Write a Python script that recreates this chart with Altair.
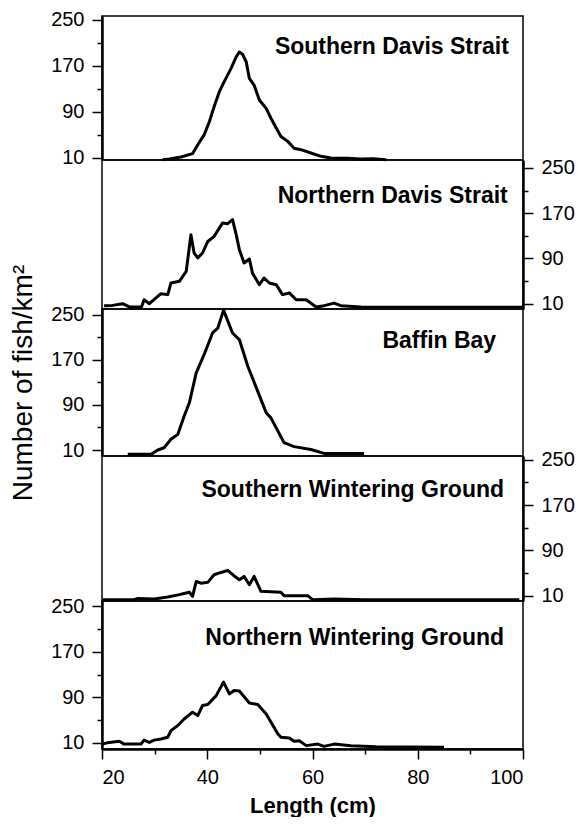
import altair as alt
import pandas as pd

names = ["Southern Davis Strait", "Northern Davis Strait", "Baffin Bay",
         "Southern Wintering Ground", "Northern Wintering Ground"]

sds_len = [31.5, 32.8, 35.0, 37.2, 38.2, 39.4, 40.4, 41.3, 42.3, 43.2, 44.5, 45.5, 46.1, 46.7,
           47.4, 48.0, 48.9, 49.9, 51.2, 52.1, 53.1, 54.0, 55.3, 56.5, 57.8, 59.7, 61.6, 63.5,
           66.7, 69.2, 71.5, 74.0]
sds_val = [7, 8.3, 11.7, 17.5, 33, 50, 73, 99, 125, 142, 165, 185.5, 194, 190,
           177, 148, 136.6, 110.7, 96, 79, 62, 47.4, 38.8, 27, 24.4, 18.6, 12.9, 10,
           9.4, 8.3, 8.8, 7]

nds_len = [20.4, 22.0, 23.9, 25.3, 27.5, 28.0, 29.0, 31.2, 32.5, 33.1, 34.7, 36.0, 36.9, 37.5,
           38.2, 39.1, 40.1, 41.3, 42.9, 43.9, 44.8, 45.5, 46.1, 47.0, 48.0, 48.6, 49.9, 50.8,
           51.8, 53.1, 54.3, 55.6, 56.9, 58.8, 60.7, 62.2, 64.1, 65.4, 69.2, 80.0, 100.0]
nds_val = [6.5, 7, 10, 4, 4, 17, 10, 27.7, 26, 46.6, 49.5, 67, 132, 99.6,
           90.8, 99.6, 120, 129, 152.7, 151.5, 158.6, 132, 105.5, 82, 89, 64, 43.6, 55.4,
           46.6, 43.6, 26, 29, 17, 17, 4, 6.5, 11, 6.5, 4, 3.5, 3.5]

bb_len = [24.9, 29.3, 30.6, 31.8, 33.1, 34.4, 35.6, 36.6, 37.9, 39.4, 41.0, 42.0, 43.1, 44.8,
          46.1, 47.7, 49.6, 51.2, 52.1, 54.6, 56.5, 59.7, 62.2, 69.8]
bb_val = [2.3, 2.3, 10, 14, 29, 37.7, 70, 93.7, 146.8, 179, 217.5, 226, 258, 217.5,
          205.8, 158.6, 114, 76, 67, 23, 16, 11, 4, 4]

swg_len = [20.1, 26.1, 26.8, 29.9, 32.5, 34.7, 36.0, 36.6, 37.2, 37.9, 38.8, 40.1, 41.3, 42.6,
           43.9, 45.1, 46.1, 47.0, 48.0, 48.9, 50.2, 54.0, 54.6, 59.1, 60.0, 64.1, 69.8, 99.3]
swg_val = [3, 3, 5, 4, 7.6, 11.8, 14.7, 16, 8.8, 35, 32, 33.5, 47, 51,
           54.7, 45, 38, 44, 29.4, 44, 17.6, 16, 10, 10, 3, 4, 3, 3]

nwg_len = [20.0, 21.4, 23.3, 24.2, 27.4, 28.0, 29.0, 29.9, 31.2, 32.5, 33.1, 34.4, 35.6, 37.2,
           38.2, 39.1, 40.1, 41.7, 43.1, 44.2, 45.1, 46.1, 48.0, 49.6, 51.2, 53.4, 54.0, 55.6,
           56.5, 57.5, 58.8, 61.0, 62.2, 64.1, 67.3, 72.1, 85.0]
nwg_val = [8, 11, 13, 8, 8, 15, 11, 15, 17, 20, 31.7, 40.5, 52, 64,
           58, 75.7, 77.5, 93, 116.8, 96, 102, 101, 80, 77.5, 61, 26, 20, 18.8,
           13, 14, 5.3, 8, 4, 8, 5.3, 3.5, 2.4]

series = [(sds_len, sds_val), (nds_len, nds_val), (bb_len, bb_val),
          (swg_len, swg_val), (nwg_len, nwg_val)]

# y-axis extent of each panel (the panels were pasted together by hand)
y_domains = [[6.5, 256.4], [0.6, 264], [-0.6, 260], [0.6, 256.5], [-0.6, 259]]
panel_heights = [144, 149, 147, 145, 148]

label_x = [97.3, 97.1, 94.9, 96.4, 96.4]
label_y = [202.6, 200.3, 203.4, 196.5, 193.9]

y_major = [10, 90, 170, 250]
y_minor = [50, 130, 210]
x_major = [20, 40, 60, 80, 100]
x_minor = [30, 50, 70, 90]

FONT = "Liberation Sans"
W = 421


def panel(i):
    lens, vals = series[i]
    df = pd.DataFrame({"len": lens, "val": vals})
    xs = alt.Scale(domain=[20, 100], nice=False, zero=False)
    ys = alt.Scale(domain=y_domains[i], nice=False, zero=False)
    side = "left" if i % 2 == 0 else "right"
    bottom = i == 4
    if bottom:
        xax = alt.Axis(orient="bottom", values=x_major, title="Length (cm)", tickSize=10,
                       labelPadding=8, titlePadding=8, labelFontSize=20,
                       titleFontSize=22, titleFontWeight="bold", grid=False)
        xmin = alt.Axis(orient="bottom", values=x_minor, labels=False, title=None,
                        tickSize=5, domain=False, grid=False)
    else:
        xax = None
        xmin = None
    ytitle = "Number of fish/km²" if i == 2 else None
    yax = alt.Axis(orient=side, values=y_major, title=ytitle, tickSize=10, labelPadding=8,
                   titlePadding=13, labelFontSize=20, titleFontSize=28,
                   titleFontWeight="normal", grid=False)
    ymin = alt.Axis(orient=side, values=y_minor, labels=False, title=None, tickSize=5,
                    domain=False, grid=False)
    minor = alt.Chart(df).mark_line(opacity=0).encode(
        x=alt.X("len:Q", scale=xs, axis=xmin),
        y=alt.Y("val:Q", scale=ys, axis=ymin),
    )
    line = alt.Chart(df).mark_line(color="black", strokeWidth=3, strokeJoin="round").encode(
        x=alt.X("len:Q", scale=xs, axis=xax),
        y=alt.Y("val:Q", scale=ys, axis=yax),
    )
    lab_df = pd.DataFrame({"x": [label_x[i]], "y": [label_y[i]], "t": [names[i]]})
    lab = alt.Chart(lab_df).mark_text(align="right", baseline="middle", font=FONT,
                                      fontSize=23, fontWeight="bold", color="black").encode(
        x=alt.X("x:Q", scale=xs, axis=None),
        y=alt.Y("y:Q", scale=ys, axis=None),
        text="t:N",
    )
    return alt.layer(minor, line, lab).resolve_axis(x="independent", y="independent").properties(
        width=W, height=panel_heights[i])


chart = alt.vconcat(*[panel(i) for i in range(5)], spacing=0, bounds="flush").properties(
    padding={"left": 0, "top": 0, "right": 0, "bottom": 0},
    background="white"
).configure_view(
    stroke="black", strokeWidth=1.5
).configure_axis(
    labelFont=FONT, titleFont=FONT, labelColor="black", titleColor="black",
    domainColor="black", tickColor="black", domainWidth=2.5, tickWidth=1.5
)

chart.save("out.html", embed_options={"renderer": "svg", "actions": False})
